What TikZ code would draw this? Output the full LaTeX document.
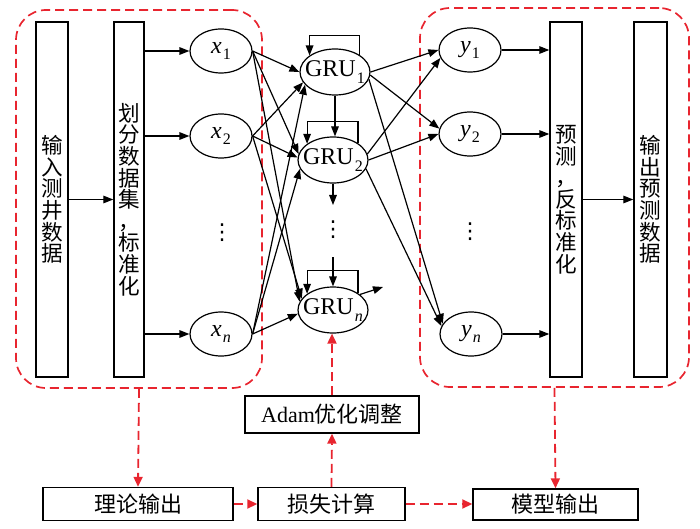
\documentclass[tikz,border=0pt]{standalone}
\usepackage{fontspec}
\setmainfont{Liberation Serif}
\newfontfamily\cjk{Noto Sans CJK SC}
\newfontfamily\symfont{DejaVu Sans}
\usepackage{tikz}
\usetikzlibrary{arrows.meta, positioning, shapes.geometric}
\definecolor{kred}{HTML}{E8252F}
\newcommand{\vsub}[2]{#1\kern0.6pt\raisebox{-0.6ex}{\fontsize{8}{9}\selectfont #2}}

\tikzset{
  arr/.style={-{Triangle[length=5pt,width=3.8pt]}, line width=0.6pt},
  vbox/.style={draw, line width=0.7pt, inner sep=0pt, minimum height=177.5pt,
    align=center, font=\cjk\fontsize{10.8}{10.8}\selectfont},
  hbox/.style={draw, line width=0.7pt, inner sep=0pt, minimum height=16.5pt,
    font=\cjk\fontsize{11}{13}\selectfont},
  xnode/.style={ellipse, draw, line width=0.6pt, inner sep=0pt,
    minimum width=31pt, minimum height=22pt, font=\fontsize{12}{14}\selectfont},
  grunode/.style={ellipse, draw, line width=0.6pt, inner ysep=0pt, inner xsep=-4pt,
    minimum width=35pt, minimum height=23pt, font=\fontsize{12}{14}\selectfont},
  dots/.style={inner sep=0pt, font=\symfont\fontsize{11}{11}\selectfont},
  region/.style={draw=kred, line width=0.85pt, dash pattern=on 4.5pt off 2.5pt,
    rounded corners=15pt, inner sep=0pt},
  redarr/.style={draw=kred, line width=0.9pt, dash pattern=on 4.5pt off 2.5pt,
    -{Triangle[length=5pt,width=4.5pt,fill=kred]}},
}

\begin{document}
\begin{tikzpicture}[x=0.5pt, y=-0.5pt]
\useasboundingbox (0,0) rectangle (700,529);

\node[region, minimum width=123pt, minimum height=189pt] (leftgrp) at (139,199) {};
\node[region, minimum width=134.5pt, minimum height=189.5pt] (rightgrp) at (554.5,197.5) {};

\node[vbox, minimum width=16pt] (input) at (52,199.5) {输\\入\\测\\井\\数\\据};
\node[vbox, minimum width=15pt] (split) at (129,199.5) {划\\分\\数\\据\\集\\，\\标\\准\\化};
\node[vbox, minimum width=16pt] (pred) at (566,199.5) {预\\测\\，\\反\\标\\准\\化};
\node[vbox, minimum width=16.5pt] (outp) at (650.5,199.5) {输\\出\\预\\测\\数\\据};

\node[xnode] (x1) at (221,51) {\vsub{\textit{x}}{1}};
\node[xnode] (x2) at (221,136) {\vsub{\textit{x}}{2}};
\node[xnode] (xn) at (221,334) {\vsub{\textit{x}}{\textit{n}}};
\node[dots] (xdots) at (222,233) {⋮};

\node[grunode] (gru1) at (335,72) {\vsub{GRU}{1}};
\node[grunode] (gru2) at (333,160) {\vsub{GRU}{2}};
\node[grunode] (grun) at (333,310) {\vsub{GRU}{\textit{n}}};
\node[dots] (gdots) at (333,230) {⋮};

\node[xnode] (y1) at (470,50) {\vsub{\textit{y}}{1}};
\node[xnode] (y2) at (470,134) {\vsub{\textit{y}}{2}};
\node[xnode] (yn) at (471,334) {\vsub{\textit{y}}{\textit{n}}};
\node[dots] (ydots) at (470,232) {⋮};

\node[hbox, minimum width=95pt] (theory) at (138,504) {理论输出};
\node[hbox, minimum width=73.5pt] (loss) at (331.5,504) {损失计算};
\node[hbox, minimum width=82.5pt, minimum height=15.5pt] (model) at (555.5,504.5) {模型输出};
\node[hbox, minimum width=87pt, minimum height=18.5pt] (adam) at (332,414.5) {{\rmfamily Adam}优化调整};

\coordinate (g2end) at (333,205);
\coordinate (gntop) at (333,257);
\coordinate (gnout) at (383,287);

\draw[arr] (input.east) -- (split.west);
\foreach \t in {x1,x2,xn}
  \draw[arr] (\t.west -| split.east) -- (\t.west);
\foreach \s/\t/\a in {x1/gru1/180, x2/gru1/198, xn/gru1/203,
                      x1/gru2/170, x2/gru2/176, xn/gru2/195,
                      x1/grun/166, x2/grun/160, xn/grun/186}
  \draw[arr] (\s.east) -- (\t.\a);

\draw[arr] (gru1.35) -- ++(0,-19) -| (gru1.147);
\draw[arr] (gru1.south) -- (gru1.south |- gru2.north);
\draw[arr] (gru2.34) -- ++(0,-22) -| (gru2.148);
\draw[arr] (gru2.south) -- (g2end);
\draw[arr] (gntop) -- (grun.north);
\draw[arr] (grun.34) -- ++(0,-23) -| (grun.148);
\draw[arr] (grun.30) -- (gnout);

\foreach \s/\a/\t/\b in {gru1/0/y1/180, gru1/-5/y2/170, gru1/-12/yn/160,
                         gru2/10/y1/195, gru2/0/y2/180, gru2/-15/yn/165}
  \draw[arr] (\s.\a) -- (\t.\b);
\foreach \t in {y1,y2,yn}
  \draw[arr] (\t.east) -- (\t.east -| pred.west);
\draw[arr] (pred.east) -- (outp.west);

\draw[redarr] (leftgrp.south) -- (theory.north);
\draw[redarr] (theory.east) -- (loss.west);
\draw[redarr] (loss.north) -- (adam.south);
\draw[redarr] (adam.north) -- (adam.north |- grun.south);
\draw[redarr] (loss.east) -- (loss.east -| model.west);
\draw[redarr] (rightgrp.south) -- (model.north);
\end{tikzpicture}
\end{document}
